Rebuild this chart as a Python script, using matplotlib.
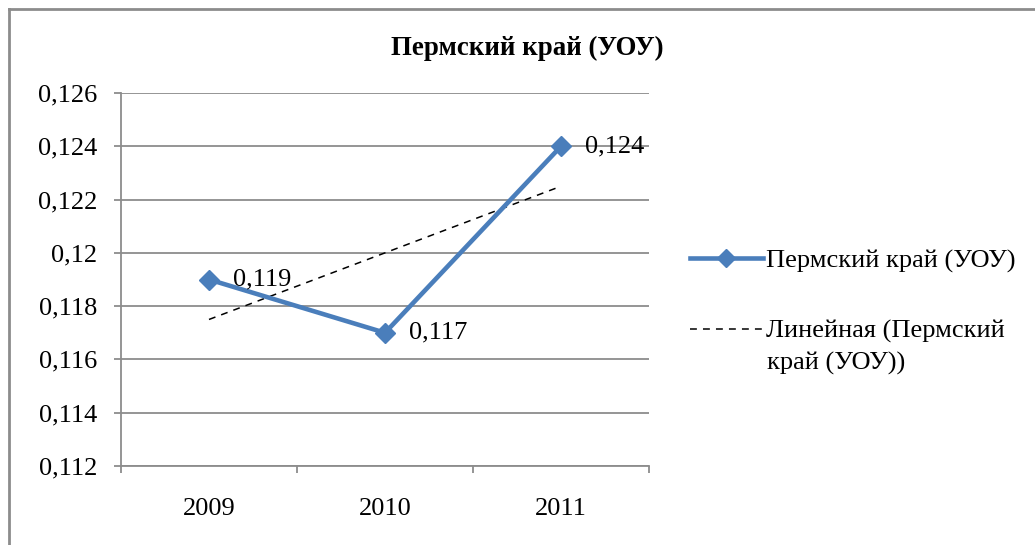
import matplotlib.pyplot as plt
import numpy as np
from matplotlib.lines import Line2D
from matplotlib.ticker import FuncFormatter

plt.rcParams['font.family'] = ['Liberation Serif', 'DejaVu Serif']

# data
years = ['2009', '2010', '2011']
values = [0.119, 0.117, 0.124]
value_labels = ['0,119', '0,117', '0,124']
series_name = 'Пермский край (УОУ)'
trend_name = ['Линейная (Пермский', 'край (УОУ))']

blue = '#4A7EBB'
grid_gray = '#8C8C8C'

fig = plt.figure(figsize=(10.35, 5.45), dpi=100)
ax = fig.add_axes([121 / 1035, 1 - 466 / 545, 528 / 1035, 373 / 545])

x = np.arange(len(years))
line, = ax.plot(x, values, color=blue, lw=3.3, marker='D', ms=10,
                label=series_name, zorder=3)

# linear trend from the data
k, b = np.polyfit(x, values, 1)
trend, = ax.plot(x, k * x + b, color='black', lw=1.1,
                 linestyle=(0, (4.5, 4)), label=trend_name[0], zorder=2)

for xi, v, lab in zip(x, values, value_labels):
    ax.annotate(lab, (xi, v), xytext=(17, 0), textcoords='offset points',
                ha='left', va='center', fontsize=19)

ax.set_xlim(-0.5, 2.5)
ax.set_ylim(0.112, 0.126)
ax.set_yticks(np.arange(0.112, 0.1261, 0.002))
ax.yaxis.set_major_formatter(FuncFormatter(
    lambda v, p: f"{round(v, 3):g}".replace('.', ',')))
ax.set_xticks(x)
ax.set_xticklabels(years)
ax.set_xticks([-0.5, 0.5, 1.5, 2.5], minor=True)
ax.tick_params(axis='x', which='major', length=0, pad=23, labelsize=19)
ax.tick_params(axis='x', which='minor', length=5, width=1.3, color=grid_gray)
ax.tick_params(axis='y', length=5, width=1.3, color=grid_gray, pad=12,
               labelsize=19)

ax.grid(axis='y', color=grid_gray, lw=1.3)
ax.set_axisbelow(True)
for s in ['top', 'right']:
    ax.spines[s].set_visible(False)
for s in ['left', 'bottom']:
    ax.spines[s].set_color(grid_gray)
    ax.spines[s].set_linewidth(1.3)

fig.text(527 / 1035, 1 - 48 / 545, 'Пермский край (УОУ)', ha='center',
         va='center', fontsize=19.4, fontweight='bold')

leg = ax.legend(handles=[line, trend], loc='upper left',
                bbox_to_anchor=(690 / 1035, 1 - 249 / 545),
                bbox_transform=fig.transFigure, frameon=False, fontsize=19,
                handlelength=2.75, handletextpad=0.12, labelspacing=1.77,
                markerscale=0.9, borderpad=0, borderaxespad=0)
# second line of the trend legend label
fig.text(767 / 1035, 1 - 363 / 545, trend_name[1], ha='left', va='center',
         fontsize=19)

# outer frame (left and top edges visible)
fig.add_artist(Line2D([8.5 / 1035, 8.5 / 1035], [0, 1 - 9 / 545],
                      color='#8C8C8C', lw=2))
fig.add_artist(Line2D([8.5 / 1035, 1], [1 - 9 / 545, 1 - 9 / 545],
                      color='#8C8C8C', lw=2))

fig.savefig('out.png', dpi=100)
